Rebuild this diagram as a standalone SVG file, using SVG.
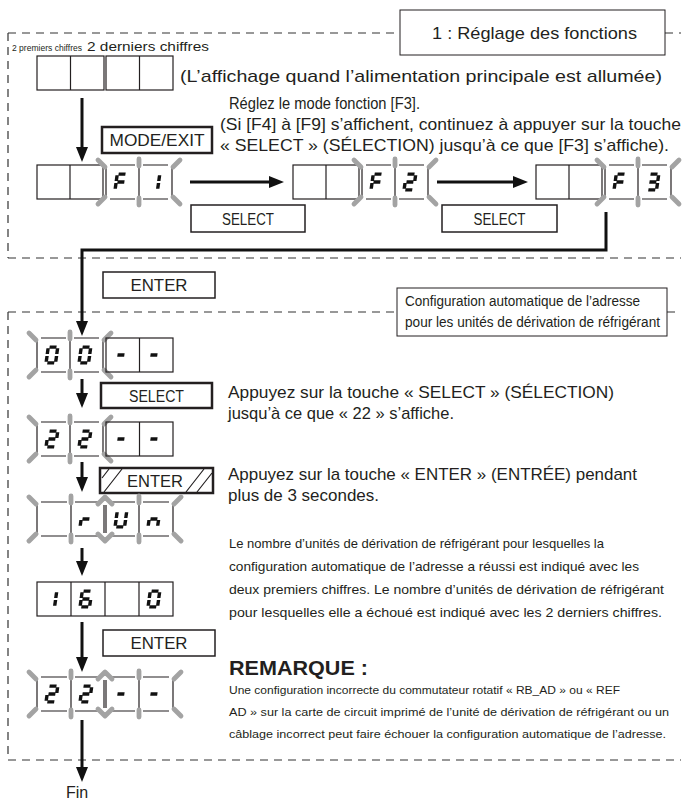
<svg xmlns="http://www.w3.org/2000/svg" xmlns:xlink="http://www.w3.org/1999/xlink" width="689" height="800" viewBox="0 0 689 800">
<style>
.t{font-family:"Liberation Sans",Arial,sans-serif;fill:#231f20}
.dash{fill:none;stroke:#333;stroke-width:1.2;stroke-dasharray:8 6}
.box{fill:#fff;stroke:#231f20;stroke-width:1.5}
.bx{fill:#fff;stroke:#231f20;stroke-width:2.5}
.thin{fill:#fff;stroke:#231f20;stroke-width:1}
.cell{fill:none;stroke:#231f20;stroke-width:1.2}
.ray{fill:none;stroke:#a3a3a3;stroke-width:4.8;stroke-linecap:round;stroke-linejoin:round}
.seg{stroke:#111;stroke-width:3.4;fill:none}
.arr{fill:none;stroke:#111;stroke-width:3;marker-end:url(#ah)}
.hat{stroke:#231f20;stroke-width:1.2}
</style>
<defs>
<marker id="ah" markerUnits="userSpaceOnUse" viewBox="0 0 15 12" markerWidth="15" markerHeight="12" refX="4" refY="6" orient="auto"><path d="M0 0L15 6L0 12z" fill="#111"/></marker>
<g id="dF" class="seg" transform="skewX(-8)"><line x1="2.8" y1="1.6" x2="9.7" y2="1.6"/><line x1="1.5" y1="2.8" x2="1.5" y2="8.6"/><line x1="1.5" y1="10.4" x2="1.5" y2="16.2"/><line x1="2.8" y1="9.5" x2="9.7" y2="9.5"/></g>
<g id="d1" class="seg" transform="skewX(-8)"><line x1="11" y1="2.8" x2="11" y2="8.6"/><line x1="11" y1="10.4" x2="11" y2="16.2"/></g>
<g id="d2" class="seg" transform="skewX(-8)"><line x1="2.8" y1="1.6" x2="9.7" y2="1.6"/><line x1="11" y1="2.8" x2="11" y2="8.6"/><line x1="2.8" y1="9.5" x2="9.7" y2="9.5"/><line x1="1.5" y1="10.4" x2="1.5" y2="16.2"/><line x1="2.8" y1="17.4" x2="9.7" y2="17.4"/></g>
<g id="d3" class="seg" transform="skewX(-8)"><line x1="2.8" y1="1.6" x2="9.7" y2="1.6"/><line x1="11" y1="2.8" x2="11" y2="8.6"/><line x1="2.8" y1="9.5" x2="9.7" y2="9.5"/><line x1="11" y1="10.4" x2="11" y2="16.2"/><line x1="2.8" y1="17.4" x2="9.7" y2="17.4"/></g>
<g id="d0" class="seg" transform="skewX(-8)"><line x1="2.8" y1="1.6" x2="9.7" y2="1.6"/><line x1="11" y1="2.8" x2="11" y2="8.6"/><line x1="11" y1="10.4" x2="11" y2="16.2"/><line x1="2.8" y1="17.4" x2="9.7" y2="17.4"/><line x1="1.5" y1="10.4" x2="1.5" y2="16.2"/><line x1="1.5" y1="2.8" x2="1.5" y2="8.6"/></g>
<g id="d6" class="seg" transform="skewX(-8)"><line x1="2.8" y1="1.6" x2="9.7" y2="1.6"/><line x1="1.5" y1="2.8" x2="1.5" y2="8.6"/><line x1="2.8" y1="9.5" x2="9.7" y2="9.5"/><line x1="1.5" y1="10.4" x2="1.5" y2="16.2"/><line x1="11" y1="10.4" x2="11" y2="16.2"/><line x1="2.8" y1="17.4" x2="9.7" y2="17.4"/></g>
<g id="dm" class="seg" transform="skewX(-8)"><line x1="2.8" y1="9.5" x2="9.7" y2="9.5"/></g>
<g id="dr" class="seg" transform="skewX(-8)"><line x1="2.8" y1="9.5" x2="9.7" y2="9.5"/><line x1="1.5" y1="10.4" x2="1.5" y2="16.2"/></g>
<g id="dU" class="seg" transform="skewX(-8)"><line x1="1.5" y1="2.8" x2="1.5" y2="8.6"/><line x1="1.5" y1="10.4" x2="1.5" y2="16.2"/><line x1="2.8" y1="17.4" x2="9.7" y2="17.4"/><line x1="11" y1="10.4" x2="11" y2="16.2"/><line x1="11" y1="2.8" x2="11" y2="8.6"/></g>
<g id="dn" class="seg" transform="skewX(-8)"><line x1="2.8" y1="9.5" x2="9.7" y2="9.5"/><line x1="1.5" y1="10.4" x2="1.5" y2="16.2"/><line x1="11" y1="10.4" x2="11" y2="16.2"/></g>
<g id="lp">
<path class="cell" d="M0 3V31M33 0V34M66 3V31M4 0H29M37 0H62M4 34H29M37 34H62"/>
<path class="ray" d="M-8 -5L-1 2M33 -6V1M74 -5L67 2M-8 39L-1 32M33 33V40M74 39L67 32"/>
</g>
<g id="lq">
<path class="cell" d="M0 3V31M34 0V34M67 3V31M69 3V31M102 0V34M136 3V31M4 0H30M38 0H62M74 0H98M106 0H132M4 34H30M38 34H62M74 34H98M106 34H132"/>
<path class="ray" d="M-8 -5L-1 2M34 -6V1M61 2L68 -5L75 2M102 -6V1M144 -5L137 2M-8 39L-1 32M34 33V40M61 32L68 39L75 32M102 33V40M144 39L137 32"/>
</g>
</defs>
<rect width="689" height="800" fill="#fff"/>

<g id="frames">
<path class="dash" d="M8 33H400M665 33H681M8 33V258M8 258H681M8 312H397M667 312H681M8 312V760M8 760H681"/>
</g>

<g id="title1">
<rect class="thin" x="400" y="10" width="265" height="45"/>
<text class="t" x="432" y="39" font-size="17" textLength="205" lengthAdjust="spacingAndGlyphs">1 : Réglage des fonctions</text>
</g>

<g id="labels">
<text class="t" x="12" y="51" font-size="8.6" textLength="70" lengthAdjust="spacingAndGlyphs">2 premiers chiffres</text>
<text class="t" x="87" y="51" font-size="13.5" textLength="122" lengthAdjust="spacingAndGlyphs">2 derniers chiffres</text>
</g>

<g id="display-initial">
<rect class="cell" x="37" y="56" width="67" height="34"/><path class="cell" d="M70.5 56V90"/>
<rect class="cell" x="106" y="56" width="67" height="34"/><path class="cell" d="M139.5 56V90"/>
<text class="t" x="180" y="82" font-size="17" textLength="482" lengthAdjust="spacingAndGlyphs">(L’affichage quand l’alimentation principale est allumée)</text>
</g>

<g id="note-f3">
<text class="t" x="229" y="109" font-size="17" textLength="191" lengthAdjust="spacingAndGlyphs">Réglez le mode fonction [F3].</text>
<text class="t" x="220" y="130" font-size="17" textLength="461" lengthAdjust="spacingAndGlyphs">(Si [F4] à [F9] s’affichent, continuez à appuyer sur la touche</text>
<text class="t" x="220" y="151" font-size="17" textLength="449" lengthAdjust="spacingAndGlyphs">« SELECT » (SÉLECTION) jusqu’à ce que [F3] s’affiche).</text>
</g>

<g id="btn-mode">
<rect class="bx" x="102" y="127" width="110" height="26"/>
<text class="t" x="157" y="146" font-size="16" text-anchor="middle" textLength="95" lengthAdjust="spacingAndGlyphs">MODE/EXIT</text>
</g>

<g id="disp-f1">
<rect class="cell" x="37" y="165" width="66" height="34"/><path class="cell" d="M70 165V199"/>
<use href="#lp" x="106" y="165"/><use href="#dF" x="116" y="172.5"/><use href="#d1" x="149" y="172.5"/>
</g>
<g id="disp-f2">
<rect class="cell" x="293" y="165" width="66" height="34"/><path class="cell" d="M326 165V199"/>
<use href="#lp" x="362" y="165"/><use href="#dF" x="372" y="172.5"/><use href="#d2" x="405" y="172.5"/>
</g>
<g id="disp-f3">
<rect class="cell" x="536" y="165" width="66" height="34"/><path class="cell" d="M569 165V199"/>
<use href="#lp" x="605" y="165"/><use href="#dF" x="615" y="172.5"/><use href="#d3" x="648" y="172.5"/>
</g>

<g id="btn-select1">
<rect class="box" x="191" y="205" width="114" height="27"/>
<text class="t" x="248" y="224.5" font-size="16" text-anchor="middle" textLength="52" lengthAdjust="spacingAndGlyphs">SELECT</text>
</g>
<g id="btn-select2">
<rect class="box" x="442" y="205" width="115" height="27"/>
<text class="t" x="499.5" y="224.5" font-size="16" text-anchor="middle" textLength="52" lengthAdjust="spacingAndGlyphs">SELECT</text>
</g>

<g id="btn-enter1">
<rect class="box" x="103" y="272" width="112" height="26"/>
<text class="t" x="159" y="291" font-size="16" text-anchor="middle" textLength="57" lengthAdjust="spacingAndGlyphs">ENTER</text>
</g>

<g id="title2">
<rect class="thin" x="397" y="288" width="270" height="48"/>
<text class="t" x="405" y="306" font-size="14" textLength="235" lengthAdjust="spacingAndGlyphs">Configuration automatique de l’adresse</text>
<text class="t" x="405" y="327" font-size="14" textLength="255" lengthAdjust="spacingAndGlyphs">pour les unités de dérivation de réfrigérant</text>
</g>

<g id="disp-00">
<use href="#lp" x="37" y="338"/><use href="#d0" x="47" y="345.5"/><use href="#d0" x="80" y="345.5"/>
<rect class="cell" x="106" y="338" width="67" height="34"/><path class="cell" d="M139.5 338V372"/>
<use href="#dm" x="116" y="345.5"/><use href="#dm" x="149" y="345.5"/>
</g>

<g id="btn-select3">
<rect class="bx" x="101" y="383" width="111" height="25"/>
<text class="t" x="156.5" y="401.5" font-size="16" text-anchor="middle" textLength="55" lengthAdjust="spacingAndGlyphs">SELECT</text>
</g>
<g id="note-select">
<text class="t" x="228" y="398" font-size="17" textLength="386" lengthAdjust="spacingAndGlyphs">Appuyez sur la touche « SELECT » (SÉLECTION)</text>
<text class="t" x="228" y="419" font-size="17" textLength="226" lengthAdjust="spacingAndGlyphs">jusqu’à ce que « 22 » s’affiche.</text>
</g>

<g id="disp-22">
<use href="#lp" x="37" y="422"/><use href="#d2" x="47" y="429.5"/><use href="#d2" x="80" y="429.5"/>
<rect class="cell" x="106" y="422" width="67" height="34"/><path class="cell" d="M139.5 422V456"/>
<use href="#dm" x="116" y="429.5"/><use href="#dm" x="149" y="429.5"/>
</g>

<g id="btn-enter-hold">
<rect class="bx" x="100" y="468" width="113" height="25"/>
<path class="hat" d="M102 478L109 469M104 492L122 469M186 492L204 469M197 492L212 473"/>
<text class="t" x="155" y="487" font-size="16" text-anchor="middle" textLength="56" lengthAdjust="spacingAndGlyphs">ENTER</text>
</g>
<g id="note-enter">
<text class="t" x="228" y="480" font-size="17" textLength="409" lengthAdjust="spacingAndGlyphs">Appuyez sur la touche « ENTER » (ENTRÉE) pendant</text>
<text class="t" x="228" y="501" font-size="17" textLength="151" lengthAdjust="spacingAndGlyphs">plus de 3 secondes.</text>
</g>

<g id="disp-run">
<use href="#lq" x="37" y="502"/><use href="#dr" x="81" y="509.5"/><use href="#dU" x="116" y="509.5"/><use href="#dn" x="149" y="509.5"/>
</g>

<g id="disp-16-0">
<rect class="cell" x="37" y="582" width="136" height="34"/><path class="cell" d="M71 582V616M105 582V616M139 582V616"/>
<use href="#d1" x="46" y="589.5"/><use href="#d6" x="81" y="589.5"/><use href="#d0" x="149" y="589.5"/>
</g>
<g id="note-result">
<text class="t" x="229" y="548" font-size="13.3" textLength="375" lengthAdjust="spacingAndGlyphs">Le nombre d’unités de dérivation de réfrigérant pour lesquelles la</text>
<text class="t" x="229" y="571" font-size="13.3" textLength="410" lengthAdjust="spacingAndGlyphs">configuration automatique de l’adresse a réussi est indiqué avec les</text>
<text class="t" x="229" y="594" font-size="13.3" textLength="435" lengthAdjust="spacingAndGlyphs">deux premiers chiffres. Le nombre d’unités de dérivation de réfrigérant</text>
<text class="t" x="229" y="617" font-size="13.3" textLength="433" lengthAdjust="spacingAndGlyphs">pour lesquelles elle a échoué est indiqué avec les 2 derniers chiffres.</text>
</g>

<g id="btn-enter2">
<rect class="box" x="103" y="630" width="112" height="26"/>
<text class="t" x="159" y="649" font-size="16" text-anchor="middle" textLength="57" lengthAdjust="spacingAndGlyphs">ENTER</text>
</g>

<g id="disp-final">
<use href="#lq" x="37" y="677"/><use href="#d2" x="47" y="684.5"/><use href="#d2" x="81" y="684.5"/><use href="#dm" x="116" y="684.5"/><use href="#dm" x="149" y="684.5"/>
</g>

<g id="remarque">
<text class="t" x="229" y="675" font-size="20" font-weight="bold" textLength="139" lengthAdjust="spacingAndGlyphs">REMARQUE :</text>
<text class="t" x="229" y="694" font-size="11.8" textLength="391" lengthAdjust="spacingAndGlyphs">Une configuration incorrecte du commutateur rotatif « RB_AD » ou « REF</text>
<text class="t" x="229" y="716" font-size="11.8" textLength="440" lengthAdjust="spacingAndGlyphs">AD » sur la carte de circuit imprimé de l’unité de dérivation de réfrigérant ou un</text>
<text class="t" x="229" y="738" font-size="11.8" textLength="437" lengthAdjust="spacingAndGlyphs">câblage incorrect peut faire échouer la configuration automatique de l’adresse.</text>
</g>

<g id="end">
<text class="t" x="77" y="798" font-size="16" text-anchor="middle">Fin</text>
</g>

<g id="connectors">
<path class="arr" d="M82 98V151"/>
<path class="arr" d="M190 182H273"/>
<path class="arr" d="M437 182H517"/>
<path class="arr" d="M606 212V250H82V325"/>
<path class="arr" d="M82 379V397"/>
<path class="arr" d="M82 462V481"/>
<path class="arr" d="M82 548V565"/>
<path class="arr" d="M82 622V661"/>
<path class="arr" d="M82 720V771"/>
</g>
</svg>
